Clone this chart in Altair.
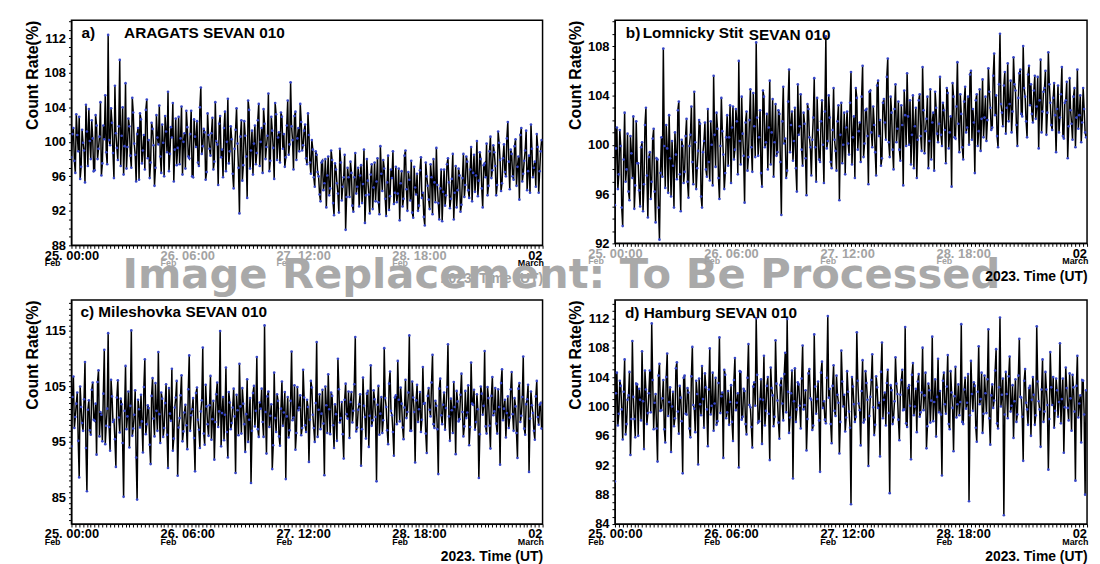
import altair as alt
import pandas as pd

FONT = "Liberation Sans"
STEP_H = 0.5  # main samples every 30 min from 25 Feb 00:00 UT; *_q lists sit 15 min later

aragats = [
    98.2, 101.6, 96.4, 100.8, 102.9, 97.1, 99.9, 95.3, 101.2, 103.8, 98.0, 100.4,
    96.7, 101.9, 99.2, 104.6, 97.5, 100.3, 98.8, 112.4, 99.6, 102.2, 95.8, 101.0,
    97.9, 109.5, 100.7, 96.2, 106.8, 99.4, 101.8, 97.0, 103.4, 98.5, 100.9, 95.6,
    102.6, 99.0, 96.8, 104.9, 100.2, 97.6, 101.5, 94.9, 103.1, 99.7, 98.3, 102.0,
    96.0, 101.2, 105.8, 98.6, 100.5, 95.4, 102.7, 99.3, 97.4, 104.1, 100.0, 96.9,
    101.7, 98.1, 103.6, 95.9, 100.6, 102.4, 97.2, 106.3, 99.5, 101.1, 96.5, 100.8,
    98.4, 102.8, 97.7, 100.1, 95.0, 103.0, 99.1, 101.6, 96.6, 105.0, 98.9, 100.3,
    94.6, 101.4, 99.8, 91.7, 102.5, 97.3, 100.7, 93.5, 103.7, 99.0, 96.2, 101.9,
    98.7, 104.4, 100.0, 96.4, 102.1, 99.4, 105.6, 97.8, 101.3, 95.7, 103.2, 100.5,
    97.6, 102.9, 100.9, 98.2, 104.8, 99.7, 101.8, 96.8, 103.5, 100.4, 98.9, 102.3,
    99.6, 102.0, 97.4, 100.8, 96.3, 99.1, 94.8, 98.5, 96.0, 93.1, 97.8, 95.2,
    92.4, 98.3, 94.6, 97.9, 91.5, 96.8, 94.0, 99.2, 93.2, 95.9, 89.8, 97.0,
    93.6, 96.4, 91.9, 98.7, 94.8, 92.5, 97.3, 95.1, 90.6, 98.0, 93.9, 96.2,
    92.2, 97.6, 95.4, 93.0, 99.5, 94.3, 96.9, 91.4, 98.4, 93.7, 95.8, 92.8,
    97.1, 94.0, 90.9, 96.6, 93.4, 99.0, 92.0, 95.6, 97.8, 91.2, 94.7, 96.3,
    92.6, 98.2, 94.1, 90.3, 96.0, 93.3, 97.4, 91.6, 95.3, 99.3, 92.9, 94.6,
    90.8, 96.8, 93.8, 98.1, 92.3, 95.7, 91.0, 97.2, 94.4, 96.1, 92.7, 98.6,
    95.0, 97.7, 93.5, 99.4, 96.4, 94.2, 100.1, 95.5, 98.0, 92.4, 97.5, 99.8,
    94.9, 100.6, 96.7, 98.8, 93.8, 101.2, 97.9, 95.2, 99.7, 96.0, 102.3, 94.5,
    98.6, 95.6, 100.3, 97.1, 93.3, 101.6, 96.3, 99.0, 94.4, 98.4, 102.0, 95.9,
    97.7, 100.9, 94.1, 98.9,
]
aragats_q = [
    100.9, 97.8, 103.2, 98.9, 95.7, 101.4, 99.0, 104.3, 97.2, 100.1, 102.5, 96.6,
    103.1, 98.0, 100.6, 96.1, 101.9, 105.4, 97.4, 100.2, 103.9, 98.7, 106.5, 99.3,
    101.8, 97.2, 104.0, 99.5, 96.9, 102.7, 98.4, 105.1, 99.8, 95.4, 101.6, 103.3,
    97.5, 100.8, 103.7, 98.1, 95.8, 102.2, 99.6, 97.0, 100.5, 104.2, 96.4, 99.9,
    103.0, 98.8, 96.6, 101.7, 104.5, 99.1, 97.3, 102.9, 100.4, 96.2, 101.0, 103.6,
    98.3, 100.9, 96.0, 102.6, 99.4, 97.6, 104.0, 98.6, 101.5, 95.6, 103.3, 99.2,
    101.0, 96.8, 104.6, 99.7, 102.1, 98.2, 95.9, 103.5, 100.0, 97.5, 101.8, 96.3,
    99.2, 103.9, 97.0, 100.6, 95.5, 102.4, 98.3, 104.8, 96.9, 101.3, 99.8, 97.4,
    102.5, 97.2, 101.6, 103.8, 98.0, 100.7, 96.6, 102.9, 99.3, 104.5, 97.9, 101.1,
    103.4, 99.2, 97.1, 101.9, 98.5, 106.9, 100.2, 103.0, 97.9, 101.6, 104.4, 99.0,
    101.3, 98.1, 103.3, 97.6, 100.2, 95.9, 98.9, 96.5, 93.9, 97.6, 94.4, 98.0,
    96.1, 93.8, 99.0, 92.9, 97.5, 95.2, 91.8, 97.6, 94.8, 98.5, 93.6, 95.9,
    97.7, 92.6, 95.9, 94.0, 97.0, 96.1, 92.9, 99.1, 93.8, 95.5, 91.7, 97.4,
    94.7, 93.1, 98.1, 91.6, 96.3, 97.9, 93.4, 95.3, 92.1, 96.8, 98.9, 94.1,
    93.0, 96.9, 95.2, 92.5, 98.4, 94.5, 96.5, 93.2, 91.8, 97.1, 93.9, 92.0,
    96.7, 93.5, 91.3, 97.6, 94.9, 92.2, 95.9, 98.0, 93.0, 95.0, 91.0, 96.8,
    94.2, 92.6, 97.4, 95.3, 93.4, 98.6, 94.1, 92.4, 96.9, 91.9, 95.8, 93.6,
    98.3, 94.4, 96.8, 93.1, 98.5, 96.1, 93.7, 98.8, 94.6, 97.3, 95.9, 93.8,
    98.9, 95.8, 99.6, 97.2, 95.0, 99.9, 94.3, 98.1, 96.5, 100.4, 97.7, 99.1,
    96.0, 99.5, 94.9, 98.3, 100.8, 95.4, 97.8, 101.3, 96.6, 94.1, 99.2, 97.0,
    94.8, 99.4, 96.6, 100.2,
]

lomnicky = [
    95.1, 101.4, 97.6, 99.9, 93.4, 102.6, 98.0, 96.2, 100.7, 97.3, 94.8, 101.9,
    98.5, 95.0, 100.2, 96.8, 103.0, 94.1, 99.4, 97.0, 101.3, 93.7, 98.8, 92.3,
    100.6, 107.8, 96.5, 99.7, 102.4, 95.8, 98.3, 101.0, 97.2, 103.5, 94.6, 99.9,
    97.8, 102.1, 95.7, 100.8, 98.6, 104.3, 96.4, 99.5, 101.7, 94.9, 100.3, 98.0,
    102.9, 97.1, 100.0, 105.6, 98.2, 101.3, 95.6, 103.8, 99.2, 97.7, 102.4, 100.6,
    96.9, 103.1, 99.6, 101.9, 106.8, 98.4, 100.9, 95.3, 102.7, 99.0, 104.5, 97.8,
    101.5, 108.3, 99.1, 102.8, 96.6, 103.9, 100.2, 98.0, 105.2, 101.0, 97.4, 103.3,
    99.4, 102.5, 94.3, 104.7, 100.5, 97.9, 106.1, 101.6, 98.7, 103.0, 96.2, 100.8,
    104.1, 98.3, 101.7, 95.9, 102.9, 99.8, 100.4, 105.4, 97.0, 101.2, 98.6, 103.6,
    96.9, 108.8, 100.3, 102.2, 98.1, 104.6, 99.5, 101.9, 95.5, 103.4, 100.0, 97.6,
    102.7, 99.2, 105.9, 100.6, 97.3, 103.8, 101.1, 98.6, 106.4, 100.1, 102.9, 96.8,
    104.4, 99.8, 101.6, 97.5, 105.2, 102.0, 98.9, 103.7, 100.4, 107.0, 99.0, 102.6,
    98.0, 104.9, 101.3, 99.6, 103.2, 96.7, 102.4, 105.8, 100.0, 98.4, 104.0, 101.5,
    97.3, 103.6, 100.7, 106.3, 99.3, 102.1, 98.1, 104.5, 101.8, 97.9, 103.0, 100.2,
    105.5, 99.9, 102.8, 98.5, 104.2, 101.0, 96.6, 103.9, 100.5, 106.7, 99.4, 102.5,
    98.8, 104.7, 101.4, 100.0, 106.0, 102.9, 97.7, 104.1, 101.1, 99.5, 105.3, 102.2,
    100.3, 106.2, 103.0, 101.4, 107.4, 104.0, 99.8, 109.0, 102.6, 104.8, 100.9, 106.6,
    103.3, 101.0, 107.1, 104.4, 99.9, 105.8, 102.5, 108.0, 103.9, 100.6, 106.4, 104.9,
    101.8, 105.6, 103.1, 99.7, 106.9, 102.7, 104.6, 100.8, 107.5, 103.4, 101.2, 105.0,
    99.4, 104.8, 102.2, 106.3, 100.5, 103.6, 98.9, 105.4, 101.7, 103.9, 99.8, 106.1,
    102.4, 100.2, 104.6, 101.0,
]
lomnicky_q = [
    99.7, 96.4, 101.2, 94.9, 98.8, 97.0, 100.9, 95.5, 99.3, 102.3, 96.7, 98.5,
    96.3, 99.8, 94.6, 101.6, 97.5, 99.0, 95.6, 100.5, 96.2, 98.9, 94.9, 97.7,
    97.4, 99.9, 101.6, 96.1, 98.9, 100.3, 94.9, 99.2, 102.8, 97.6, 100.4, 96.9,
    100.7, 97.0, 99.9, 103.1, 96.8, 100.2, 98.1, 102.0, 95.8, 99.4, 101.8, 97.4,
    98.6, 101.9, 96.7, 100.8, 102.6, 97.3, 99.9, 101.1, 96.4, 100.6, 98.3, 103.2,
    101.4, 98.8, 102.9, 97.6, 100.3, 103.9, 99.1, 101.8, 97.9, 102.0, 99.8, 104.2,
    99.0, 102.2, 100.6, 97.7, 104.4, 99.8, 102.5, 101.4, 98.4, 103.7, 100.2, 99.1,
    102.8, 98.6, 101.9, 100.1, 97.3, 103.5, 99.4, 102.7, 100.3, 98.1, 104.9, 101.5,
    99.6, 102.6, 98.9, 103.3, 100.6, 97.5, 102.2, 99.8, 103.8, 98.8, 101.9, 100.0,
    102.7, 99.7, 104.0, 98.6, 101.2, 100.4, 97.9, 103.2, 100.8, 98.5, 102.6, 101.4,
    100.1, 103.4, 98.4, 102.3, 104.6, 99.6, 101.8, 103.9, 99.0, 102.8, 100.7, 104.3,
    101.0, 103.1, 99.4, 104.8, 100.7, 98.3, 103.4, 101.8, 105.5, 100.2, 103.9, 99.6,
    102.9, 100.2, 103.5, 98.7, 101.6, 104.4, 99.9, 102.3, 103.6, 100.8, 98.1, 103.0,
    100.4, 104.1, 99.5, 102.8, 101.1, 103.9, 100.3, 98.8, 102.6, 104.3, 100.9, 101.7,
    100.8, 103.4, 101.2, 104.6, 99.7, 102.3, 105.0, 100.6, 103.1, 101.7, 104.1, 99.8,
    103.5, 101.0, 103.9, 105.7, 100.4, 101.8, 103.6, 99.9, 104.5, 102.1, 100.6, 103.9,
    102.0, 104.3, 101.2, 105.6, 102.4, 100.7, 104.9, 103.3, 101.5, 105.9, 103.0, 101.9,
    105.2, 102.7, 104.9, 101.6, 103.8, 106.1, 102.3, 104.6, 101.9, 105.7, 103.2, 102.5,
    104.4, 102.1, 105.5, 103.6, 101.0, 104.3, 106.0, 102.6, 104.9, 101.6, 103.8, 102.4,
    102.9, 101.0, 104.1, 100.7, 103.4, 105.1, 101.5, 102.8, 100.4, 104.6, 102.2, 101.3,
    104.0, 101.8, 102.9, 100.6,
]

mileshovka = [
    94.2, 106.8, 99.5, 103.9, 88.6, 101.3, 97.0, 109.4, 86.1, 102.5, 96.3, 105.7,
    98.8, 92.7, 107.9, 100.4, 95.1, 111.6, 97.9, 114.6, 93.4, 103.2, 99.0, 90.5,
    106.1, 96.7, 101.8, 85.1, 108.7, 99.6, 94.0, 115.1, 97.4, 104.3, 84.6, 100.9,
    103.5, 93.1, 109.9, 98.2, 101.1, 91.0, 106.5, 96.0, 100.6, 111.2, 94.8, 102.8,
    97.5, 105.4, 90.3, 100.1, 108.2, 95.6, 103.0, 88.9, 99.3, 107.0, 96.9, 101.7,
    93.7, 110.6, 99.8, 102.9, 89.7, 104.8, 97.2, 100.5, 112.0, 94.5, 101.4, 96.1,
    106.9, 99.1, 91.8, 103.6, 97.7, 115.0, 100.2, 95.3, 108.4, 92.2, 102.1, 98.4,
    104.6, 89.4, 100.7, 109.1, 96.5, 101.9, 93.2, 106.3, 99.0, 87.6, 103.8, 97.8,
    110.3, 95.9, 101.0, 98.6, 116.0, 92.9, 104.1, 99.7, 90.1, 107.5, 96.8, 102.4,
    94.3, 105.9, 100.3, 88.3, 103.1, 97.1, 111.3, 99.4, 93.6, 104.9, 101.2, 96.2,
    108.0, 98.0, 102.6, 91.4, 106.0, 99.9, 95.0, 113.0, 100.8, 97.3, 104.4, 89.0,
    101.6, 107.2, 96.4, 103.3, 93.9, 100.0, 110.0, 98.5, 102.2, 92.0, 105.5, 99.2,
    95.7, 104.0, 100.6, 113.9, 97.6, 101.8, 90.7, 106.6, 99.5, 103.7, 94.1, 108.8,
    98.9, 102.7, 87.9, 105.1, 100.1, 96.6, 111.9, 101.3, 94.6, 107.7, 99.8, 92.5,
    103.4, 109.6, 98.7, 101.9, 95.5, 106.2, 100.4, 114.2, 97.0, 103.0, 91.3, 105.3,
    100.9, 96.8, 108.5, 102.0, 93.0, 104.7, 99.6, 110.7, 97.5, 101.5, 89.2, 106.4,
    98.2, 103.9, 101.1, 112.6, 95.2, 100.7, 105.8, 92.8, 102.3, 99.1, 107.3, 96.0,
    104.2, 100.3, 94.4, 109.3, 101.7, 97.2, 103.6, 88.5, 105.0, 99.9, 111.4, 96.5,
    102.9, 93.8, 106.7, 100.5, 98.3, 104.5, 90.9, 108.1, 101.0, 95.8, 103.2, 99.4,
    107.6, 97.0, 101.4, 92.1, 105.6, 99.7, 110.4, 96.3, 102.7, 89.6, 104.1, 100.2,
    95.4, 106.0, 98.1, 102.0,
]
mileshovka_q = [
    103.1, 97.5, 101.9, 95.2, 105.0, 98.4, 102.7, 93.9, 100.8, 97.1, 104.4, 99.0,
    101.9, 105.8, 96.0, 99.9, 103.7, 94.6, 101.0, 97.7, 106.2, 98.6, 95.5, 103.0,
    99.4, 102.8, 94.8, 100.6, 97.3, 104.1, 101.5, 96.1, 99.9, 92.2, 102.6, 97.6,
    98.7, 104.9, 96.4, 101.6, 94.5, 103.3, 99.2, 105.6, 97.0, 100.0, 103.9, 95.9,
    102.0, 96.3, 104.7, 98.8, 93.4, 101.2, 106.0, 97.6, 103.4, 95.1, 100.3, 98.0,
    104.5, 97.0, 100.9, 95.7, 103.8, 99.0, 93.9, 102.5, 96.5, 105.3, 98.2, 101.6,
    95.4, 102.4, 98.6, 105.7, 100.5, 94.2, 103.1, 99.9, 96.8, 104.0, 97.3, 101.2,
    99.6, 103.5, 96.2, 101.4, 104.7, 98.2, 100.0, 95.0, 102.9, 97.0, 105.1, 100.6,
    97.3, 102.1, 104.6, 95.9, 100.4, 103.2, 97.7, 101.8, 94.4, 99.3, 103.6, 96.0,
    101.0, 97.9, 104.0, 99.6, 95.8, 102.4, 98.9, 105.2, 96.6, 100.7, 103.4, 97.5,
    103.0, 96.8, 101.3, 99.0, 104.8, 97.5, 102.0, 95.9, 103.6, 100.1, 98.3, 105.0,
    96.6, 100.9, 103.9, 98.0, 101.8, 95.2, 104.5, 99.3, 96.4, 102.6, 100.0, 104.1,
    102.2, 98.5, 105.4, 96.9, 100.8, 103.6, 97.3, 101.5, 95.6, 104.2, 99.7, 97.9,
    104.3, 99.5, 101.7, 96.3, 103.1, 98.9, 102.9, 97.1, 105.5, 100.6, 96.8, 103.0,
    98.2, 102.6, 104.8, 97.6, 101.2, 99.3, 103.9, 97.0, 105.9, 100.4, 102.5, 98.6,
    104.0, 99.0, 101.9, 96.5, 103.3, 100.8, 105.7, 98.2, 102.4, 97.3, 104.6, 99.8,
    101.7, 97.2, 104.9, 99.6, 102.8, 96.6, 101.3, 104.2, 98.7, 103.5, 100.4, 97.8,
    99.3, 105.2, 97.7, 101.9, 104.4, 98.6, 100.9, 96.4, 103.7, 101.5, 97.8, 104.9,
    97.9, 103.3, 99.8, 104.7, 96.5, 101.3, 105.6, 98.9, 102.6, 100.2, 97.5, 104.5,
    100.0, 102.9, 96.6, 104.6, 98.6, 103.1, 97.4, 101.8, 105.3, 99.2, 101.6, 97.0,
    103.2, 99.5, 101.7, 97.4,
]

hamburg = [
    89.8, 104.6, 99.0, 102.8, 95.5, 106.4, 97.6, 101.5, 93.4, 108.9, 98.3, 103.1,
    96.0, 100.9, 107.5, 94.2, 102.3, 99.1, 104.9, 111.3, 96.9, 101.7, 92.5, 105.8,
    99.5, 103.6, 95.1, 107.2, 100.6, 93.8, 102.0, 98.4, 106.0, 96.3, 101.2, 90.9,
    104.2, 98.9, 101.9, 95.8, 108.1, 99.7, 103.5, 92.1, 100.3, 105.5, 97.1, 102.6,
    94.6, 107.9, 100.1, 96.7, 103.9, 98.0, 109.4, 101.4, 93.0, 104.3, 99.2, 97.5,
    102.9, 95.3, 106.6, 100.5, 91.7, 104.7, 98.6, 102.1, 96.2, 108.5, 99.9, 94.4,
    103.3, 112.0, 97.8, 101.0, 94.9, 106.9, 99.4, 104.0, 92.7, 102.5, 97.3, 109.0,
    100.8, 95.6, 103.8, 98.1, 107.3, 111.9, 96.4, 101.8, 90.2, 105.2, 99.6, 103.0,
    97.0, 108.3, 100.2, 94.0, 104.5, 101.1, 96.8, 109.8, 99.0, 103.4, 91.1, 106.1,
    100.7, 97.7, 112.3, 102.4, 95.0, 105.6, 98.7, 101.6, 93.6, 107.6, 100.0, 96.6,
    104.8, 99.3, 86.7, 102.7, 97.9, 110.1, 100.4, 94.7, 106.3, 98.2, 103.2, 91.9,
    101.3, 107.1, 96.1, 104.1, 99.8, 93.2, 108.7, 100.9, 97.4, 105.0, 88.2, 102.2,
    98.5, 106.7, 101.7, 95.4, 103.6, 99.5, 110.8, 97.2, 102.9, 92.8, 105.9, 100.0,
    96.5, 104.4, 99.2, 108.0, 101.5, 94.3, 103.1, 97.8, 109.5, 100.6, 95.9, 106.5,
    102.1, 90.6, 104.6, 99.0, 107.0, 96.9, 101.9, 93.9, 105.4, 100.3, 98.8, 111.2,
    97.6, 103.9, 100.5, 87.1, 106.2, 99.4, 102.8, 95.2, 108.2, 101.0, 96.4, 104.2,
    99.1, 110.5, 94.8, 103.0, 100.8, 107.8, 97.0, 112.1, 101.6, 85.2, 104.7, 98.4,
    106.8, 100.1, 95.7, 103.7, 98.9, 109.2, 101.2, 92.6, 105.1, 99.6, 102.5, 96.0,
    104.0, 97.5, 110.9, 100.7, 94.5, 106.4, 99.3, 102.3, 91.4, 107.4, 100.2, 97.1,
    103.8, 98.6, 108.6, 101.0, 93.7, 105.3, 99.8, 104.5, 96.7, 102.6, 89.9, 106.9,
    100.4, 95.1, 103.5, 88.0,
]
hamburg_q = [
    101.8, 97.4, 103.5, 99.6, 102.0, 96.2, 100.9, 104.7, 98.3, 101.3, 95.8, 103.0,
    102.4, 98.1, 100.7, 104.9, 97.6, 101.8, 99.2, 103.6, 100.5, 97.0, 104.2, 99.4,
    101.1, 96.9, 104.0, 98.7, 102.6, 100.0, 97.3, 105.2, 99.3, 102.8, 98.0, 103.9,
    99.0, 102.5, 97.0, 104.1, 100.2, 96.5, 101.7, 103.8, 98.8, 101.0, 104.5, 99.6,
    102.3, 98.9, 104.6, 100.4, 97.5, 103.2, 99.1, 101.9, 105.0, 98.4, 102.1, 100.6,
    97.9, 103.6, 99.5, 101.8, 104.8, 98.2, 102.4, 97.6, 103.9, 100.2, 97.2, 102.7,
    100.1, 104.3, 98.0, 103.7, 100.9, 97.4, 102.8, 99.0, 105.3, 101.5, 98.6, 103.1,
    97.8, 102.9, 100.4, 104.4, 99.2, 102.0, 98.5, 104.9, 100.7, 97.9, 103.3, 100.1,
    103.8, 99.6, 102.2, 98.3, 105.1, 100.9, 97.4, 102.7, 101.0, 98.1, 104.6, 99.8,
    98.2, 103.9, 101.2, 97.6, 102.8, 99.4, 104.2, 100.5, 97.9, 103.4, 101.6, 98.5,
    102.0, 97.1, 104.0, 100.3, 98.6, 103.5, 99.5, 102.1, 97.8, 104.8, 100.9, 98.7,
    103.6, 99.9, 97.5, 102.6, 100.5, 104.7, 98.4, 101.9, 103.2, 99.1, 102.9, 97.6,
    100.7, 103.1, 98.2, 101.6, 105.0, 99.6, 97.7, 102.5, 100.1, 104.3, 98.8, 102.4,
    103.4, 98.6, 101.9, 99.5, 104.6, 97.3, 102.2, 100.8, 98.0, 103.7, 101.3, 99.2,
    98.9, 103.5, 100.3, 102.7, 97.6, 104.8, 99.8, 101.4, 98.5, 103.0, 100.6, 97.9,
    102.3, 99.7, 104.4, 98.8, 101.7, 103.3, 97.1, 102.0, 100.3, 104.6, 99.0, 101.8,
    103.7, 98.4, 101.5, 99.8, 104.9, 97.7, 102.6, 100.0, 103.8, 98.9, 101.7, 104.1,
    99.3, 102.9, 100.7, 97.9, 104.2, 101.3, 98.6, 103.5, 100.5, 97.5, 102.8, 100.9,
    101.6, 98.8, 103.4, 99.6, 102.3, 97.9, 104.7, 100.2, 98.3, 102.6, 104.0, 99.4,
    102.2, 100.6, 97.7, 103.8, 99.9, 102.5, 98.1, 101.1, 104.3, 99.3, 102.8, 98.5,
    101.5, 103.6, 98.9, 102.2,
]

x_tick_hours = [0, 30, 60, 90, 120]
x_tick_main = ["25. 00:00", "26. 06:00", "27. 12:00", "28. 18:00", "02"]
x_tick_sub = ["Feb", "Feb", "Feb", "Feb", "March"]
x_minor_ticks = list(range(0, 123))

GRAY = "#a3a3a3"

panels = [
    dict(values=aragats, values_q=aragats_q, domain=[88, 114.1], yticks=list(range(88, 115)),
         ylab="datum.value % 4 == 0", w=475, h=227,
         texts=[("a)", 10, 13), ("ARAGATS SEVAN 010", 53, 13)],
         fade="datum.value > 15 && datum.value < 100", title_color=GRAY,
         sub_fade=lambda h: 15 < h < 100, watermark=True),
    dict(values=lomnicky, values_q=lomnicky_q, domain=[92, 110.1], yticks=list(range(92, 111)),
         ylab="datum.value % 4 == 0", w=476, h=225,
         texts=[("b)", 11, 13), ("Lomnicky Stit", 28, 13), ("SEVAN 010", 135, 15)],
         fade="datum.value < 100", title_color="black",
         sub_fade=lambda h: h < 100, watermark=False),
    dict(values=mileshovka, values_q=mileshovka_q, domain=[80.2, 120.6], yticks=list(range(81, 121)),
         ylab="(datum.value - 85) % 10 == 0", w=475, h=226,
         texts=[("c) Mileshovka SEVAN 010", 9, 12)],
         fade=None, title_color="black", sub_fade=lambda h: False, watermark=False),
    dict(values=hamburg, values_q=hamburg_q, domain=[84, 114.5], yticks=list(range(84, 115)),
         ylab="datum.value % 4 == 0", w=476, h=226,
         texts=[("d) Hamburg SEVAN 010", 10, 13)],
         fade=None, title_color="black", sub_fade=lambda h: False, watermark=False),
]

# label expression for x tick labels, built from the tick label arrays
x_label_expr = "''"
for hh, lab in reversed(list(zip(x_tick_hours, x_tick_main))):
    x_label_expr = f"datum.value == {hh} ? '{lab}' : ({x_label_expr})"


def make_panel(cfg):
    main = cfg["values"]
    q = cfg["values_q"]
    df = pd.concat([
        pd.DataFrame({"h": [i * STEP_H for i in range(len(main))], "v": main}),
        pd.DataFrame({"h": [i * STEP_H + STEP_H / 2 for i in range(len(q))], "v": q}),
    ]).sort_values("h").reset_index(drop=True)

    if cfg["fade"]:
        label_color = {"condition": {"test": cfg["fade"], "value": GRAY}, "value": "black"}
    else:
        label_color = "black"

    x = alt.X(
        "h:Q",
        scale=alt.Scale(domain=[0, 122], nice=False, zero=False),
        axis=alt.Axis(
            values=x_minor_ticks, labelExpr=x_label_expr, tickSize=3, labelPadding=1,
            labelFont=FONT, labelFontSize=13, labelFontWeight="bold", labelColor=label_color,
            labelFlush=False, labelOverlap=False, labelBound=False, grid=False,
            domainColor="black", tickColor="black", tickWidth=1,
            title="2023. Time (UT)", titleFont=FONT, titleFontSize=14, titleFontWeight="bold",
            titleColor=cfg["title_color"], titleAnchor="end", titleAlign="right",
            titleBaseline="top", titleY=26,
        ),
    )
    y = alt.Y(
        "v:Q",
        scale=alt.Scale(domain=cfg["domain"], nice=False, zero=False),
        axis=alt.Axis(
            values=cfg["yticks"], labelExpr=f"{cfg['ylab']} ? datum.label : ''",
            tickSize=3, labelPadding=3, labelFont=FONT, labelFontSize=13,
            labelFontWeight="bold", labelColor="black", labelOverlap=False, labelBound=False,
            grid=False, domainColor="black", tickColor="black", minExtent=10,
            title="Count Rate(%)", titleFont=FONT, titleFontSize=16, titleFontWeight="bold",
            titleColor="black", titleAnchor="end", titlePadding=4,
        ),
    )

    line = alt.Chart(df).mark_line(color="black", strokeWidth=1.5, clip=True).encode(x=x, y=y)
    pts = alt.Chart(df).mark_circle(color="#3646c8", size=7, opacity=1, clip=True).encode(x=x, y=y)

    sub_df = pd.DataFrame({"h": x_tick_hours, "sub": x_tick_sub})
    sub_df["faded"] = [cfg["sub_fade"](hh) for hh in x_tick_hours]
    sub_color = alt.condition("datum.faded", alt.value(GRAY), alt.value("black"))
    feb = alt.Chart(sub_df[sub_df["sub"] == "Feb"]).mark_text(
        align="left", baseline="middle", dx=-27, font=FONT, fontSize=9, fontWeight="bold"
    ).encode(x=x, y=alt.value(cfg["h"] + 18), text="sub:N", color=sub_color)
    mar = alt.Chart(sub_df[sub_df["sub"] == "March"]).mark_text(
        align="center", baseline="middle", dx=-4, font=FONT, fontSize=9, fontWeight="bold"
    ).encode(x=x, y=alt.value(cfg["h"] + 18), text="sub:N", color=sub_color)

    layers = [line, pts, feb, mar]
    for txt, tx, ty in cfg["texts"]:
        layers.append(
            alt.Chart(pd.DataFrame({"t": [txt]})).mark_text(
                align="left", baseline="middle", font=FONT, fontSize=15.5,
                fontWeight="bold", color="black"
            ).encode(x=alt.value(tx), y=alt.value(ty), text="t:N")
        )
    if cfg["watermark"]:
        layers.append(
            alt.Chart(pd.DataFrame({"t": ["Image Replacement: To Be Processed"]})).mark_text(
                align="center", baseline="alphabetic", font="DejaVu Sans", fontSize=42,
                fontWeight="bold", color="#a9a9a9"
            ).encode(x=alt.value(494), y=alt.value(270), text="t:N")
        )
    return alt.layer(*layers).properties(width=cfg["w"], height=cfg["h"])


chart = alt.concat(
    *[make_panel(c) for c in panels], columns=2,
    spacing={"row": 55, "column": 72}, bounds="flush", align="all",
).properties(
    padding={"left": 15, "top": 4, "right": 2, "bottom": 0}, background="white"
).configure_view(stroke="black", strokeWidth=1.5)

chart.save("out.html", embed_options={"renderer": "svg", "actions": False})
